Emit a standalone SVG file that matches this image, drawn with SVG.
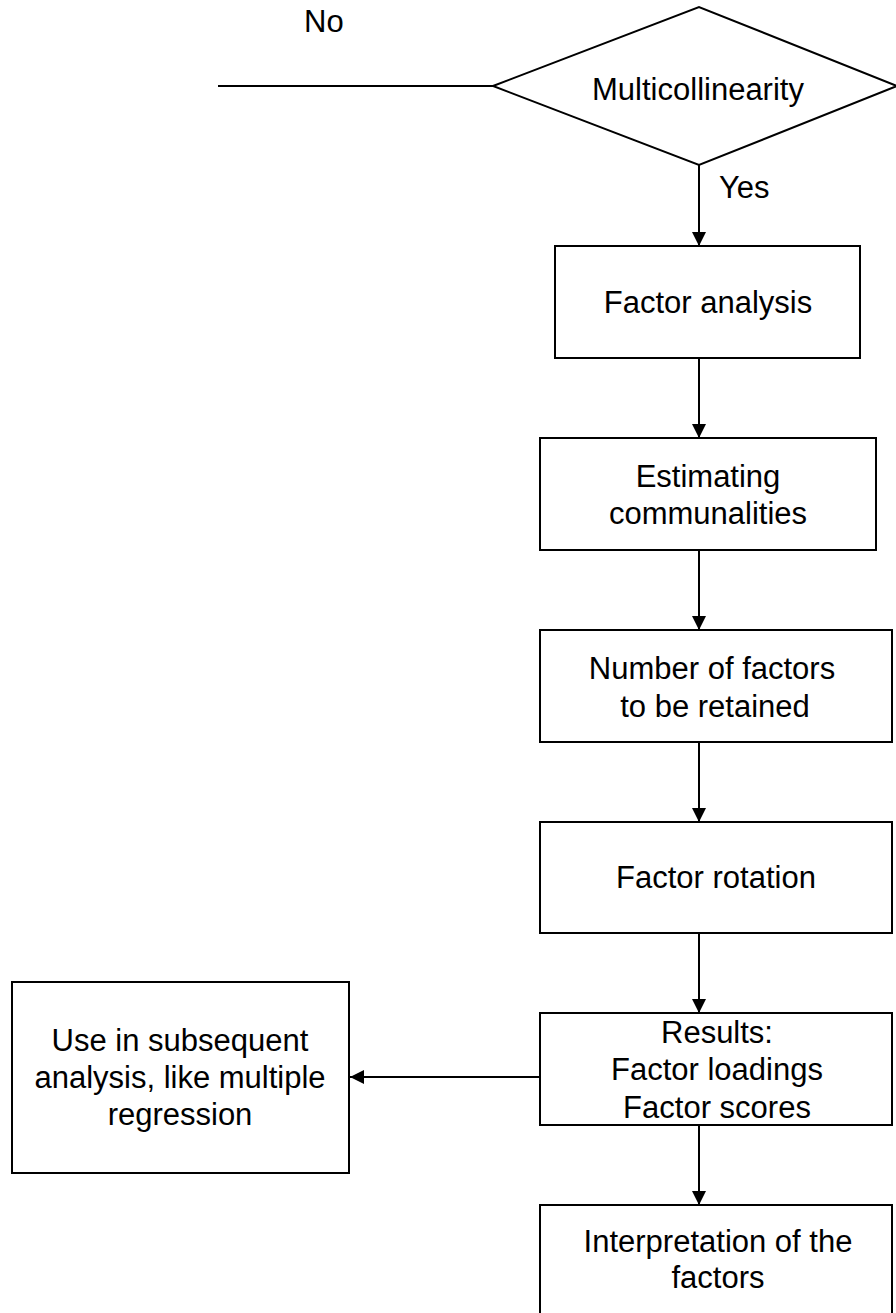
<svg xmlns="http://www.w3.org/2000/svg" width="896" height="1313" viewBox="0 0 896 1313">
<defs>
<marker id="arr" viewBox="0 0 14 14" refX="14" refY="7" markerWidth="14" markerHeight="14" markerUnits="userSpaceOnUse" orient="auto">
<path d="M0,0 L14,7 L0,14 Z" fill="#000"/>
</marker>
<style>
.box{fill:#fff;stroke:#000;stroke-width:2}
.t{font-family:"Liberation Sans",Arial,sans-serif;font-size:31px;fill:#000;text-anchor:middle}
.l{font-family:"Liberation Sans",Arial,sans-serif;font-size:31px;fill:#000}
.c{stroke:#000;stroke-width:2;fill:none}
</style>
</defs>
<rect width="896" height="1313" fill="#fff"/>
<g id="connectors">
<line class="c" x1="218" y1="86" x2="493" y2="86"/>
<line class="c" x1="699" y1="165" x2="699" y2="246" marker-end="url(#arr)"/>
<line class="c" x1="699" y1="358" x2="699" y2="438" marker-end="url(#arr)"/>
<line class="c" x1="699" y1="550" x2="699" y2="630" marker-end="url(#arr)"/>
<line class="c" x1="699" y1="742" x2="699" y2="822" marker-end="url(#arr)"/>
<line class="c" x1="699" y1="933" x2="699" y2="1013" marker-end="url(#arr)"/>
<line class="c" x1="699" y1="1125" x2="699" y2="1205" marker-end="url(#arr)"/>
<line class="c" x1="541" y1="1077" x2="350" y2="1077" marker-end="url(#arr)"/>
<text class="l" x="304" y="32">No</text>
<text class="l" x="719" y="198">Yes</text>
</g>
<g id="decision">
<polygon class="box" points="493,86 699,7 897,86 699,165"/>
<text class="t" x="698" y="100">Multicollinearity</text>
</g>
<g id="factor-analysis">
<rect class="box" x="555" y="246" width="305" height="112"/>
<text class="t" x="708" y="313">Factor analysis</text>
</g>
<g id="communalities">
<rect class="box" x="540" y="438" width="336" height="112"/>
<text class="t" x="708" y="487">Estimating</text>
<text class="t" x="708" y="524">communalities</text>
</g>
<g id="num-factors">
<rect class="box" x="540" y="630" width="352" height="112"/>
<text class="t" x="712" y="679">Number of factors</text>
<text class="t" x="715" y="717">to be retained</text>
</g>
<g id="rotation">
<rect class="box" x="540" y="822" width="352" height="111"/>
<text class="t" x="716" y="888">Factor rotation</text>
</g>
<g id="results">
<rect class="box" x="540" y="1013" width="352" height="112"/>
<text class="t" x="717" y="1043">Results:</text>
<text class="t" x="717" y="1080">Factor loadings</text>
<text class="t" x="717" y="1118">Factor scores</text>
</g>
<g id="subsequent">
<rect class="box" x="12" y="982" width="337" height="191"/>
<text class="t" x="180" y="1051">Use in subsequent</text>
<text class="t" x="180" y="1088">analysis, like multiple</text>
<text class="t" x="180" y="1125">regression</text>
</g>
<g id="interpretation">
<rect class="box" x="540" y="1205" width="352" height="120"/>
<text class="t" x="718" y="1252">Interpretation of the</text>
<text class="t" x="718" y="1288">factors</text>
</g>
</svg>
